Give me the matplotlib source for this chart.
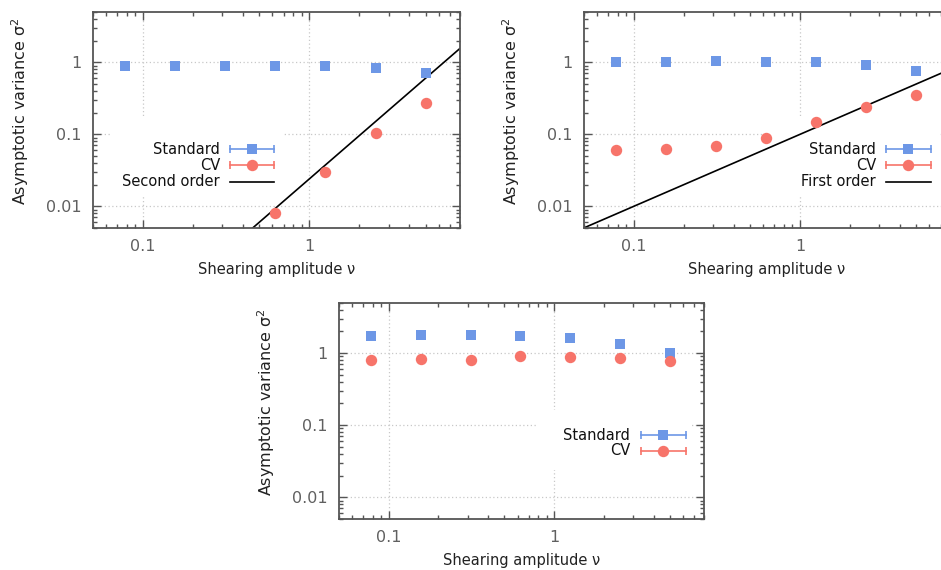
import numpy as np
import matplotlib
matplotlib.use("Agg")
import matplotlib.pyplot as plt
from matplotlib.patches import Rectangle
from matplotlib.lines import Line2D
from matplotlib.ticker import LogLocator, FixedLocator, FuncFormatter, NullFormatter

plt.rcParams['font.family'] = ['DejaVu Sans']

# ---------------- data ----------------
nu = [0.078125, 0.15625, 0.3125, 0.625, 1.25, 2.5, 5.0]

# panel 1
p1_standard = [0.90, 0.90, 0.90, 0.90, 0.88, 0.83, 0.70]
p1_cv_nu = [0.625, 1.25, 2.5, 5.0]
p1_cv = [0.008, 0.030, 0.105, 0.275]
p1_ref_x = [0.05, 8.0]
p1_ref_y = [6.0e-5, 1.54]
p1_ref_label = "Second order"

# panel 2
p2_standard = [1.00, 1.00, 1.03, 1.00, 1.00, 0.91, 0.76]
p2_cv = [0.060, 0.062, 0.069, 0.089, 0.150, 0.237, 0.350]
p2_ref_x = [0.05, 8.0]
p2_ref_y = [0.005, 0.8]
p2_ref_label = "First order"

# panel 3
p3_standard = [1.70, 1.76, 1.80, 1.72, 1.60, 1.33, 1.01]
p3_cv = [0.81, 0.83, 0.81, 0.90, 0.89, 0.85, 0.78]

xticks = [0.1, 1]
xticklabels = ["0.1", "1"]
yticks = [0.01, 0.1, 1]
yticklabels = ["0.01", "0.1", "1"]

BLUE = '#6d97e6'
RED = '#f7746a'
TICKC = '#606060'
SPINE = '#555555'

W, H = 941, 570
fig = plt.figure(figsize=(W / 100, H / 100), dpi=100)


def px_axes(l, t, r, b):
    return fig.add_axes([l / W, 1 - b / H, (r - l) / W, (b - t) / H])


def style(ax):
    ax.set_xscale('log')
    ax.set_yscale('log')
    ax.set_xlim(0.05, 8)
    ax.set_ylim(0.005, 5)
    ax.xaxis.set_major_locator(FixedLocator(xticks))
    ax.xaxis.set_major_formatter(FuncFormatter(lambda v, p: xticklabels[xticks.index(v)] if v in xticks else ""))
    ax.yaxis.set_major_locator(FixedLocator(yticks))
    ax.yaxis.set_major_formatter(FuncFormatter(lambda v, p: yticklabels[yticks.index(v)] if v in yticks else ""))
    ax.xaxis.set_minor_locator(LogLocator(base=10, subs=np.arange(2, 10), numticks=20))
    ax.yaxis.set_minor_locator(LogLocator(base=10, subs=np.arange(2, 10), numticks=20))
    ax.xaxis.set_minor_formatter(NullFormatter())
    ax.yaxis.set_minor_formatter(NullFormatter())
    ax.tick_params(which='both', direction='in', top=True, right=True, color=SPINE, width=1.0)
    ax.tick_params(which='major', length=6, labelsize=11.5, labelcolor=TICKC)
    ax.tick_params(axis='x', which='major', pad=8)
    ax.tick_params(axis='y', which='major', pad=8)
    ax.tick_params(which='minor', length=3)
    for s in ax.spines.values():
        s.set_color(SPINE)
        s.set_linewidth(1.3)
    ax.grid(True, which='major', linestyle=(0, (1, 2)), color='#c8c8c8', linewidth=0.9)
    ax.set_axisbelow(True)
    ax.set_xlabel("Shearing amplitude ν", fontsize=10.5, color='#222222')
    ax.set_ylabel("Asymptotic variance σ$^2$", fontsize=11.5, color='#222222')
    ax.xaxis.set_label_coords(0.5, -0.158)
    ax.yaxis.set_label_coords(-0.168, 0.54)


def legend(ax, box, rows, xt, xl0, xl1, ys):
    ax.add_patch(Rectangle((box[0], box[1]), box[2] - box[0], box[3] - box[1],
                           transform=ax.transAxes, facecolor='white', edgecolor='none',
                           zorder=1, clip_on=False))
    xm = (xl0 + xl1) / 2
    for (label, kind, color), y in zip(rows, ys):
        ax.text(xt, y, label, transform=ax.transAxes, ha='right', va='center',
                fontsize=10.5, color='#111111', zorder=5)
        if kind == 'line':
            ax.add_line(Line2D([xl0, xl1], [y, y], transform=ax.transAxes, color='black',
                               lw=1.2, zorder=5, clip_on=False))
        else:
            ax.add_line(Line2D([xl0, xl1], [y, y], transform=ax.transAxes, color=color,
                               lw=1.2, zorder=5, clip_on=False))
            ax.add_line(Line2D([xl0, xl1], [y, y], transform=ax.transAxes, color=color,
                               lw=0, marker='|', markersize=6, markeredgewidth=1.2,
                               zorder=5, clip_on=False))
            mk = 's' if kind == 's' else 'o'
            ms = 7.5 if kind == 's' else 8.2
            ax.add_line(Line2D([xm], [y], transform=ax.transAxes, color=color, lw=0,
                               marker=mk, markersize=ms, markeredgewidth=0,
                               zorder=6, clip_on=False))


def ax_frac(ax_px, x, y):
    l, t, r, b = ax_px
    return (x - l) / (r - l), (b - y) / (b - t)


# ---------------- panel 1 ----------------
p1 = (93, 12, 459.5, 228)
ax1 = px_axes(*p1)
style(ax1)
ax1.plot(p1_ref_x, p1_ref_y, color='black', lw=1.2, zorder=2)
ax1.plot(nu, p1_standard, linestyle='none', marker='s', markersize=7.5, color=BLUE, markeredgewidth=0, zorder=3)
ax1.plot(p1_cv_nu, p1_cv, linestyle='none', marker='o', markersize=8.2, color=RED, markeredgewidth=0, zorder=3)
bx0, by0 = ax_frac(p1, 110, 196)
bx1, by1 = ax_frac(p1, 283, 117)
ys = [ax_frac(p1, 0, y)[1] for y in (149, 165, 181.5)]
legend(ax1, (bx0, by0, bx1, by1),
       [("Standard", 's', BLUE), ("CV", 'o', RED), (p1_ref_label, 'line', 'black')],
       ax_frac(p1, 220, 0)[0], ax_frac(p1, 229.5, 0)[0], ax_frac(p1, 274, 0)[0], ys)

# ---------------- panel 2 ----------------
p2 = (583.7, 12, 950.2, 228)
ax2 = px_axes(*p2)
style(ax2)
ax2.plot(p2_ref_x, p2_ref_y, color='black', lw=1.2, zorder=2)
ax2.plot(nu, p2_standard, linestyle='none', marker='s', markersize=7.5, color=BLUE, markeredgewidth=0, zorder=3)
ax2.plot(nu, p2_cv, linestyle='none', marker='o', markersize=8.2, color=RED, markeredgewidth=0, zorder=3)
bx0, by0 = ax_frac(p2, 762, 196)
bx1, by1 = ax_frac(p2, 940, 117)
ys = [ax_frac(p2, 0, y)[1] for y in (149, 165, 181.5)]
legend(ax2, (bx0, by0, bx1, by1),
       [("Standard", 's', BLUE), ("CV", 'o', RED), (p2_ref_label, 'line', 'black')],
       ax_frac(p2, 876, 0)[0], ax_frac(p2, 886, 0)[0], ax_frac(p2, 930.5, 0)[0], ys)

# ---------------- panel 3 ----------------
p3 = (338.7, 302.7, 704, 519)
ax3 = px_axes(*p3)
style(ax3)
ax3.plot(nu, p3_standard, linestyle='none', marker='s', markersize=7.5, color=BLUE, markeredgewidth=0, zorder=3)
ax3.plot(nu, p3_cv, linestyle='none', marker='o', markersize=8.2, color=RED, markeredgewidth=0, zorder=3)
bx0, by0 = ax_frac(p3, 538, 470)
bx1, by1 = ax_frac(p3, 692, 410)
ys = [ax_frac(p3, 0, y)[1] for y in (435, 450.5)]
legend(ax3, (bx0, by0, bx1, by1),
       [("Standard", 's', BLUE), ("CV", 'o', RED)],
       ax_frac(p3, 630, 0)[0], ax_frac(p3, 641, 0)[0], ax_frac(p3, 685.5, 0)[0], ys)

fig.savefig("out.png", dpi=100)
